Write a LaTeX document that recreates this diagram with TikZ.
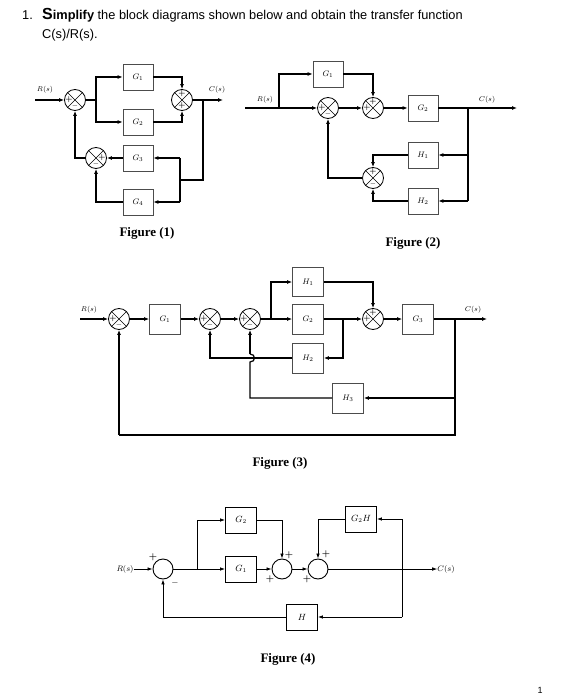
\documentclass[tikz,border=0pt]{standalone}
\usepackage{fontspec}
\usepackage{tikz}
\usetikzlibrary{arrows.meta}
\newfontfamily\headfont{Liberation Sans}
\newfontfamily\figfont{Liberation Serif}

\tikzset{
  blk/.style={draw=black!70, line width=0.7pt, fill=white, minimum width=30pt, minimum height=26pt, inner sep=0pt, font=\fontsize{8.5}{9}\selectfont},
  sumx/.style={circle, draw, line width=0.8pt, fill=white, minimum size=21pt, inner sep=0pt,
    path picture={\draw[line width=0.6pt] (path picture bounding box.north west) -- (path picture bounding box.south east)
      (path picture bounding box.north east) -- (path picture bounding box.south west);}},
  sumo/.style={circle, draw, line width=0.9pt, minimum size=20pt, inner sep=0pt},
  sgn/.style={inner sep=0pt, font=\bfseries\fontsize{7.5}{7.5}\selectfont},
  sgn4/.style={inner sep=0pt, font=\bfseries\fontsize{9}{9}\selectfont},
  sig/.style={-{Latex[length=5pt,width=4pt]}, line width=1.2pt},
  ln/.style={line width=1.2pt},
  sig4/.style={-{Latex[length=5pt,width=3.6pt]}, line width=0.8pt},
  ln4/.style={line width=0.8pt},
  lbl/.style={inner sep=0pt, font=\fontsize{7.5}{8}\selectfont},
  lbl4/.style={inner sep=0pt, font=\fontsize{8.5}{9}\selectfont},
  figlbl/.style={inner sep=0pt, font=\figfont\bfseries\fontsize{13}{15}\selectfont},
  head/.style={inner sep=0pt, anchor=base west, font=\headfont\fontsize{12.8}{15}\selectfont}
}

\begin{document}
\begin{tikzpicture}[x=1pt, y=-1pt]
  \useasboundingbox (0,0) rectangle (560,700);

  % heading
  \node (num) at (22,20) [head] {1.};
  \node (hd1) at (42,20) [head] {{\bfseries\fontsize{16}{16}\selectfont S\fontsize{12.8}{15}\selectfont implify} the block diagrams shown below and obtain the transfer function};
  \node (hd2) at (42,39) [head] {C(s)/R(s).};
  \node (pg) at (540,690) [head, anchor=center, font=\headfont\fontsize{9}{10}\selectfont] {1};

  % figure 1
  \node (r1) at (45,90) [lbl] {$R(s)$};
  \node (c1) at (217,90) [lbl] {$C(s)$};
  \coordinate (in1) at (35,100);
  \coordinate (out1) at (223,100);
  \node (s11) at (75,100) [sumx] {};
  \node (s12) at (182,100) [sumx] {};
  \node (s13) at (96,158) [sumx] {};
  \node (g11) at (138,77) [blk] {$G_1$};
  \node (g12) at (138,122) [blk] {$G_2$};
  \node (g13) at (138,158) [blk] {$G_3$};
  \node (g14) at (138,202) [blk] {$G_4$};
  \node (p11) at ([xshift=-6pt]s11.center) [sgn] {+};
  \node (m11) at ([yshift=-6pt]s11.center) [sgn] {$-$};
  \node (p12) at ([yshift=6pt]s12.center) [sgn] {+};
  \node (q12) at ([yshift=-6pt]s12.center) [sgn] {+};
  \node (p13) at ([xshift=6pt]s13.center) [sgn] {+};
  \node (m13) at ([yshift=-6pt]s13.center) [sgn] {$-$};
  \coordinate (b11) at (96,100);
  \coordinate (b12) at (203,100);
  \coordinate (f11) at (203,180);
  \coordinate (f12) at (180,180);
  \coordinate (f13) at (180,158);
  \coordinate (f14) at (180,202);
  \draw[sig] (in1) -- (s11);
  \draw[ln] (s11) -- (b11);
  \draw[sig] (b11) |- (g11);
  \draw[sig] (b11) |- (g12);
  \draw[sig] (g11) -| (s12);
  \draw[sig] (g12) -| (s12);
  \draw[sig] (s12) -- (out1);
  \draw[ln] (b12) -- (f11) -- (f12);
  \draw[ln] (f13) -- (f14);
  \draw[sig] (f13) -- (g13);
  \draw[sig] (f14) -- (g14);
  \draw[sig] (g13) -- (s13);
  \draw[sig] (g14) -| (s13);
  \draw[sig] (s13) -| (s11);
  \node (fig1) at (147,233) [figlbl] {Figure (1)};

  % figure 2
  \node (r2) at (265,100) [lbl] {$R(s)$};
  \node (c2) at (487,100) [lbl] {$C(s)$};
  \coordinate (in2) at (245,108);
  \coordinate (out2) at (517,108);
  \node (s21) at (328,108) [sumx] {};
  \node (s22) at (373,108) [sumx] {};
  \node (s23) at (373,178) [sumx] {};
  \node (g21) at (328,74) [blk] {$G_1$};
  \node (g22) at (423,108) [blk] {$G_2$};
  \node (h21) at (423,155) [blk] {$H_1$};
  \node (h22) at (423,201) [blk] {$H_2$};
  \node (p21) at ([xshift=-6pt]s21.center) [sgn] {+};
  \node (m21) at ([yshift=-6pt]s21.center) [sgn] {$-$};
  \node (p22) at ([yshift=6pt]s22.center) [sgn] {+};
  \node (q22) at ([xshift=-6pt]s22.center) [sgn] {+};
  \node (p23) at ([yshift=6pt]s23.center) [sgn] {+};
  \node (m23) at ([yshift=-6pt]s23.center) [sgn] {$-$};
  \coordinate (b21) at (279,108);
  \coordinate (b22) at (468,108);
  \coordinate (b23) at (468,155);
  \coordinate (b24) at (468,201);
  \draw[ln] (in2) -- (b21);
  \draw[sig] (b21) -- (s21);
  \draw[sig] (b21) |- (g21);
  \draw[sig] (g21) -| (s22);
  \draw[sig] (s21) -- (s22);
  \draw[sig] (s22) -- (g22);
  \draw[sig] (g22) -- (out2);
  \draw[ln] (b22) -- (b24);
  \draw[sig] (b23) -- (h21);
  \draw[sig] (b24) -- (h22);
  \draw[sig] (h21) -| (s23);
  \draw[sig] (h22) -| (s23);
  \draw[sig] (s23) -| (s21);
  \node (fig2) at (413,243) [figlbl] {Figure (2)};

  % figure 3
  \node (r3) at (89,310) [lbl] {$R(s)$};
  \node (c3) at (473,310) [lbl] {$C(s)$};
  \coordinate (in3) at (80,319);
  \coordinate (out3) at (487,319);
  \node (s31) at (119,319) [sumx] {};
  \node (s32) at (210,319) [sumx] {};
  \node (s33) at (250,319) [sumx] {};
  \node (s34) at (373,319) [sumx] {};
  \node (g31) at (165,319) [blk, minimum width=31pt, minimum height=30pt] {$G_1$};
  \node (h31) at (308,282) [blk, minimum width=31pt, minimum height=29pt] {$H_1$};
  \node (g32) at (308,319) [blk, minimum width=31pt, minimum height=30pt] {$G_2$};
  \node (h32) at (308,358) [blk, minimum width=31pt, minimum height=30pt] {$H_2$};
  \node (g33) at (418,319) [blk, minimum width=31pt, minimum height=30pt] {$G_3$};
  \node (h33) at (348,398) [blk, minimum width=31pt, minimum height=30pt] {$H_3$};
  \node (p31) at ([xshift=-6pt]s31.center) [sgn] {+};
  \node (m31) at ([yshift=-6pt]s31.center) [sgn] {$-$};
  \node (p32) at ([xshift=-6pt]s32.center) [sgn] {+};
  \node (m32) at ([yshift=-6pt]s32.center) [sgn] {$-$};
  \node (p33) at ([xshift=-6pt]s33.center) [sgn] {+};
  \node (m33) at ([yshift=-6pt]s33.center) [sgn] {$-$};
  \node (p34) at ([yshift=6pt]s34.center) [sgn] {+};
  \node (q34) at ([xshift=-6pt]s34.center) [sgn] {+};
  \coordinate (b31) at (271,319);
  \coordinate (b32) at (343,319);
  \coordinate (b33) at (455,319);
  \coordinate (b34) at (455,398);
  \coordinate (b35) at (455,435);
  \coordinate (b36) at (119,435);
  \coordinate (j31) at (250,398);
  \coordinate (j32) at (250,362);
  \coordinate (j33) at (250,354);
  \draw[sig] (in3) -- (s31);
  \draw[sig] (s31) -- (g31);
  \draw[sig] (g31) -- (s32);
  \draw[sig] (s32) -- (s33);
  \draw[ln] (s33) -- (b31);
  \draw[sig] (b31) |- (h31);
  \draw[sig] (b31) -- (g32);
  \draw[sig] (h31) -| (s34);
  \draw[sig] (g32) -- (s34);
  \draw[sig] (b32) |- (h32);
  \draw[sig] (h32) -| (s32);
  \draw[sig] (s34) -- (g33);
  \draw[sig] (g33) -- (out3);
  \draw[ln] (b33) -- (b35) -- (b36);
  \draw[sig] (b36) -- (s31);
  \draw[sig] (b34) -- (h33);
  \draw[ln] (h33) -- (j31) -- (j32) .. controls (256,362) and (256,354) .. (j33);
  \draw[sig] (j33) -- (s33);
  \node (fig3) at (280,463) [figlbl] {Figure (3)};

  % figure 4
  \node (r4) at (125,569) [lbl4] {$R(s)$};
  \node (c4) at (446,569) [lbl4] {$C(s)$};
  \node (s41) at (163,569) [sumo] {};
  \node (s42) at (282,569) [sumo] {};
  \node (s43) at (318,569) [sumo] {};
  \node (g42) at (241,520) [blk, line width=0.9pt, draw=black, minimum width=31pt, font=\fontsize{9}{9}\selectfont] {$G_2$};
  \node (g41) at (241,569) [blk, line width=0.9pt, draw=black, minimum width=31pt, font=\fontsize{9}{9}\selectfont] {$G_1$};
  \node (g2h) at (361,519) [blk, line width=0.9pt, draw=black, minimum width=31pt, font=\fontsize{9}{9}\selectfont] {$G_2H$};
  \node (h4) at (302,617) [blk, line width=0.9pt, draw=black, minimum width=31pt, font=\fontsize{9}{9}\selectfont] {$H$};
  \node (p41) at (153,557) [sgn4] {+};
  \node (m41) at (175,583) [sgn4] {$-$};
  \node (p42) at (289,555) [sgn4] {+};
  \node (q42) at (270,579) [sgn4] {+};
  \node (p43) at (326,554) [sgn4] {+};
  \node (q43) at (307,579) [sgn4] {+};
  \coordinate (b41) at (197,569);
  \coordinate (b42) at (402,519);
  \coordinate (b43) at (402,617);
  \draw[sig4] (r4) -- (s41);
  \draw[ln4] (s41) -- (b41);
  \draw[sig4] (b41) -- (g41);
  \draw[sig4] (b41) |- (g42);
  \draw[sig4] (g42) -| (s42);
  \draw[sig4] (g41) -- (s42);
  \draw[sig4] (s42) -- (s43);
  \draw[sig4] (s43) -- (c4);
  \draw[ln4] (b42) -- (b43);
  \draw[sig4] (b42) -- (g2h);
  \draw[sig4] (g2h) -| (s43);
  \draw[sig4] (b43) -- (h4);
  \draw[sig4] (h4) -| (s41);
  \node (fig4) at (288,659) [figlbl] {Figure (4)};
\end{tikzpicture}
\end{document}
